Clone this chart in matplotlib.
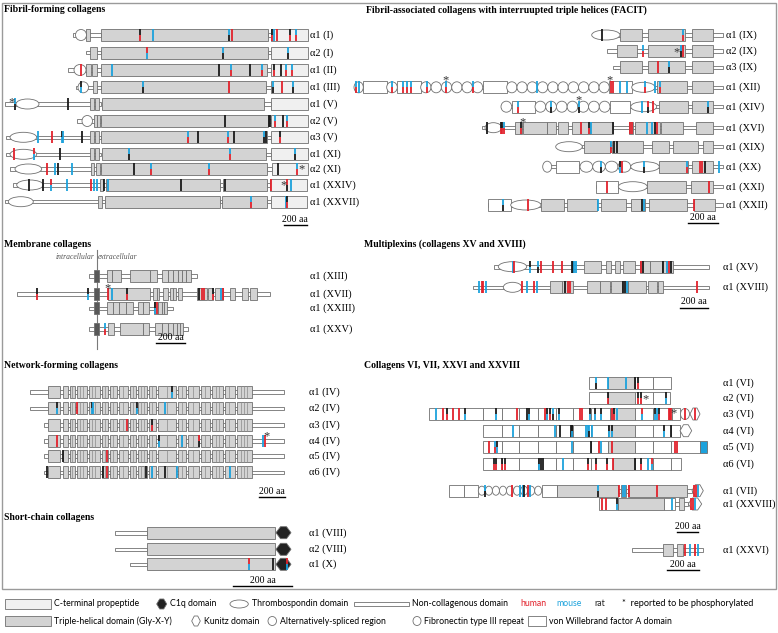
import matplotlib.pyplot as plt
from matplotlib.patches import Rectangle, Ellipse, Polygon

# ---------------------------------------------------------------
# Domain maps (x along the chain in figure units, one row per chain)
# domain: (kind, start, end[, repeats]); mark: (x, colours top->bottom)
# kinds: nc = non-collagenous, th = triple helix, cp = C-propeptide,
# vwa = vWF A, sp = small helix, tm = transmembrane, tsp = thrombospondin,
# fn = fibronectin III, hex = Kunitz, c1q = C1q, blu = filled end block
# ---------------------------------------------------------------

# Fibril-forming collagens
fib_labels = ["α1 (I)", "α2 (I)", "α1 (II)", "α1 (III)", "α1 (V)", "α2 (V)",
              "α3 (V)", "α1 (XI)", "α2 (XI)", "α1 (XXIV)", "α1 (XXVII)"]
fib_rows = [35, 52.7, 70, 87.3, 104, 121, 137.3, 154.3, 169, 185, 201.7]
fib_domains = [
    [("nc", 73, 101), ("fn", 75.5, 86.5), ("sp", 86, 90), ("th", 101, 268), ("nc", 268, 271), ("cp", 271, 308)],
    [("nc", 86, 101), ("sp", 90, 97), ("th", 101, 268), ("nc", 268, 271), ("cp", 271, 308)],
    [("nc", 68, 101), ("fn", 74, 86), ("sp", 86, 91.5), ("sp", 92.5, 97), ("th", 101, 266.7), ("nc", 266.7, 271), ("cp", 271, 308)],
    [("nc", 76, 101), ("fn", 78, 88.5), ("sp", 93, 97), ("th", 101, 265.7), ("nc", 265.7, 271), ("cp", 271, 308)],
    [("nc", 5, 101), ("tsp", 16, 39), ("sp", 90.5, 94.3), ("sp", 95, 99), ("th", 101.7, 264.3), ("nc", 264.3, 271), ("cp", 271, 308)],
    [("nc", 76.7, 101), ("fn", 82, 92.5), ("sp", 94, 97), ("sp", 97.5, 100.5), ("th", 101, 268), ("nc", 268, 271), ("cp", 271, 308)],
    [("nc", 6, 101), ("tsp", 10, 36.7), ("sp", 90, 94), ("sp", 95, 99), ("th", 100.7, 266.7), ("nc", 266.7, 271), ("cp", 271, 308)],
    [("nc", 6, 101), ("tsp", 10, 36.7), ("sp", 90, 94), ("sp", 95, 99), ("th", 101.7, 265.7), ("nc", 265.7, 271), ("cp", 271, 308)],
    [("nc", 10, 101), ("tsp", 15, 41.7), ("sp", 90.7, 94), ("sp", 95.7, 100), ("th", 100.7, 266.7), ("nc", 266.7, 271.7), ("cp", 271.7, 308)],
    [("nc", 12.7, 106), ("tsp", 16.7, 43.3), ("sp", 100, 103.3), ("th", 106, 220), ("nc", 220, 222.7), ("th", 222.7, 266.7), ("nc", 266.7, 270), ("cp", 270, 306.7)],
    [("nc", 5, 105), ("tsp", 8.3, 33.3), ("sp", 98.3, 101.7), ("th", 105, 220), ("nc", 220, 221.7), ("th", 221.7, 266.7), ("nc", 266.7, 271), ("cp", 271, 306.7)],
]
fib_marks = [
    [(140, "kr"), (152.7, "b"), (229.3, "bk"), (231.7, "r"), (271.7, "kr"), (274.3, "b"), (276.7, "r"), (290, "kr"), (296, "br")],
    [(146.7, "rb"), (223.3, "bk"), (288.3, "bk")],
    [(81.5, "r"), (111.7, "b"), (219.3, "k"), (230.7, "br"), (250, "k"), (261.7, "br"), (274, "kr"), (281, "k"), (285.7, "br"), (292.3, "br")],
    [(81, "kb"), (142.7, "bk"), (229.3, "r"), (273.3, "bk"), (281.7, "r"), (292.7, "bk")],
    [(15, "bk"), (67.7, "k")],
    [(225, "k"), (269, "k"), (270, "k"), (275, "br"), (282.7, "k"), (287.3, "br")],
    [(38.3, "b"), (52.3, "r"), (62, "kb"), (63, "b"), (81.7, "k"), (188.3, "br"), (198.3, "k"), (228.3, "br"),
     (234.3, "k"), (264.5, "bk"), (266, "k"), (280, "kr")],
    [(14, "r"), (34, "rb"), (60, "k"), (129, "bk"), (230, "br"), (295, "bk")],
    [(47.3, "r"), (55, "b"), (58.3, "k"), (72.3, "b"), (134, "k"), (150.7, "br"), (209.3, "br"), (277.7, "k"), (297.3, "br")],
    [(29.3, "k"), (43.3, "k"), (51, "rb"), (67.3, "b"), (90.7, "r"), (94.3, "b"), (96.7, "b"), (104, "k"), (108.3, "b"),
     (181, "k"), (225, "k"), (270.7, "r"), (287.3, "rk"), (291, "b")],
    [(251, "br"), (285.7, "b"), (287.3, "kr")],
]
fib_stars = [(4, 11.7, -5), (8, 301.7, -3), (9, 283.3, -3)]

# Membrane collagens
mem_labels = ["α1 (XIII)", "α1 (XVII)", "α1 (XXIII)", "α1 (XXV)"]
mem_rows = [275.7, 294, 308.3, 329]
mem_domains = [
    [("nc", 89.3, 196.7), ("tm", 94.3, 99), ("th", 107.3, 112.3), ("th", 112.3, 120.7), ("th", 130, 150), ("th", 150, 156.7),
     ("th", 162.3, 167.7), ("th", 167.7, 173.3), ("th", 173.3, 177.7), ("th", 177.7, 181.7), ("th", 181.7, 185.7), ("th", 185.7, 190.7)],
    [("nc", 17.3, 270), ("tm", 94.3, 99), ("th", 108.3, 150), ("th", 153, 156.7), ("th", 156.7, 159.3), ("th", 163.3, 168.3),
     ("th", 170, 173.3), ("th", 173.3, 176), ("th", 178.3, 181.7), ("th", 196.7, 206.7), ("th", 208.3, 213.3), ("th", 215, 223.3),
     ("th", 230, 235), ("th", 241.7, 248.3), ("th", 250, 256.7)],
    [("nc", 89.3, 172.7), ("tm", 94.3, 99), ("th", 107.3, 113.3), ("th", 113.3, 118.7), ("th", 118.7, 126), ("th", 126, 132.7),
     ("th", 137.7, 143.3), ("th", 143.3, 149), ("th", 154, 158.3), ("th", 158.3, 161.7), ("th", 161.7, 164.3), ("th", 164.3, 166.7)],
    [("nc", 89.3, 188.3), ("tm", 94.3, 99), ("th", 107.7, 114.3), ("th", 120, 143.3), ("th", 143.3, 149.3), ("th", 155, 162.3),
     ("th", 162.3, 168.3), ("th", 168.3, 173.3), ("th", 173.3, 176.7), ("th", 176.7, 180), ("th", 180, 182.7)],
]
mem_marks = [
    [],
    [(36.7, "kr"), (88.3, "kb"), (108.3, "r"), (111.7, "b"), (126.7, "kr"), (199.3, "k"), (201.7, "r"), (204.3, "r"),
     (213.3, "kr"), (221, "b"), (222.7, "r")],
    [(155, "kb"), (156.7, "r")],
    [(105, "br")],
]
mem_stars = [(1, 107.3, -9)]
membrane_x = 96.7

# Network-forming collagens (type IV share one block pattern)
net_labels = ["α1 (IV)", "α2 (IV)", "α3 (IV)", "α4 (IV)", "α5 (IV)", "α6 (IV)"]
net_rows = [391.7, 408.3, 425, 440.7, 455.7, 472.3]
net_start = [30, 30, 44.3, 44.3, 44.3, 44.3]
net_end = 284
iv_blocks = [(48.3, 60.3), (62.7, 68.3), (69.7, 74.7), (76.7, 86.7), (88.7, 100), (102, 108.3), (110.3, 117),
             (119, 127.7), (130, 136), (137.7, 146.7), (148.7, 156), (158, 175.7), (177.7, 186.3), (188.3, 199.3),
             (201.3, 210), (212, 222.7), (224.7, 235), (236.7, 251.7)]
iv_dividers = [72, 80.5, 83.5, 92, 95, 105, 113.5, 123, 133, 141, 144, 152, 167, 182, 193.5, 205, 216, 219,
               229.5, 241, 244.5, 247.5]
net_marks = [
    [(171.7, "kb")],
    [(56.7, "kb"), (76.7, "r"), (91.7, "kb"), (93.3, "b"), (136.7, "kb"), (165, "b")],
    [(126.7, "r"), (151.7, "kr")],
    [(56.7, "r"), (159.3, "kb"), (182.3, "b"), (199.3, "rk"), (263.3, "b"), (265, "r")],
    [(63.3, "k"), (107.3, "r")],
    [(46.7, "k"), (102.7, "k"), (106.7, "r"), (146, "k"), (151.7, "b"), (165, "k"), (176.7, "b"), (230, "b")],
]
net_stars = [(3, 267, -8)]

# Short-chain collagens
short_labels = ["α1 (VIII)", "α2 (VIII)", "α1 (X)"]
short_rows = [532.7, 549.3, 564.3]
short_domains = [
    [("nc", 115, 147.3), ("th", 147.3, 275), ("c1q", 276, 291)],
    [("nc", 115, 147.3), ("th", 147.3, 275), ("c1q", 276, 291)],
    [("nc", 130, 147.3), ("th", 147.3, 275), ("c1q", 276, 291)],
]
short_marks = [[], [], [(249, "rb"), (272.7, "k"), (287.3, "rb")]]

# FACIT collagens
fac_labels = ["α1 (IX)", "α2 (IX)", "α3 (IX)", "α1 (XII)", "α1 (XIV)", "α1 (XVI)", "α1 (XIX)",
              "α1 (XX)", "α1 (XXI)", "α1 (XXII)"]
fac_rows = [35, 51, 67.3, 87.3, 106.7, 127.7, 146.7, 166.7, 186.7, 205]
fac_domains = [
    [("nc", 606, 723.3), ("tsp", 591.7, 620), ("th", 620, 641.7), ("th", 647.7, 685), ("th", 691.7, 713.3)],
    [("nc", 606.7, 723.3), ("th", 616.7, 636.7), ("th", 648.3, 685), ("th", 691.7, 713.3)],
    [("nc", 613.3, 723.3), ("th", 620, 641.7), ("th", 648.3, 685), ("th", 691.7, 713.3)],
    [("nc", 354, 723.3), ("fn", 354, 363.3), ("vwa", 363.3, 386.7), ("fn", 386.7, 397.3), ("vwa", 397.3, 420.7),
     ("fn", 420.7, 482.7, 6), ("vwa", 482.7, 506.7), ("fn", 506.7, 609.3, 10), ("vwa", 609.3, 631.7),
     ("tsp", 631.7, 655), ("th", 656.7, 686.7), ("th", 691.7, 713.3)],
    [("nc", 501, 723.3), ("fn", 501, 511.7), ("vwa", 511.7, 535), ("fn", 535, 610, 7), ("vwa", 610, 630),
     ("tsp", 630.7, 656.7), ("th", 659.3, 688.3), ("th", 692.3, 713.3)],
    [("nc", 481.7, 723.3), ("tsp", 485, 501.7), ("th", 515, 521.7), ("th", 523.3, 546.7), ("th", 547.3, 555.7),
     ("th", 558.3, 568.3), ("th", 571.7, 590), ("th", 590, 613.3), ("th", 629.3, 633.3), ("th", 635, 660),
     ("th", 660.7, 683.3), ("th", 696, 713.3)],
    [("nc", 582.3, 723.3), ("tsp", 555.7, 582.3), ("th", 584, 610), ("th", 611.7, 643.3), ("th", 651.7, 669.3),
     ("th", 673.3, 698.3), ("th", 703.3, 713.3)],
    [("nc", 542.7, 723.3), ("fn", 542.7, 551.7), ("vwa", 556, 579.3), ("fn", 580, 630.7, 4), ("tsp", 630.7, 659.3),
     ("th", 659.3, 688.3), ("th", 692.3, 713.3)],
    [("nc", 595.7, 723.3), ("vwa", 595.7, 618.3), ("tsp", 618.3, 647.3), ("th", 647.3, 685.7), ("th", 691, 713.3)],
    [("nc", 488.3, 723.3), ("vwa", 488.3, 510.7), ("tsp", 510.7, 541), ("th", 541, 564), ("th", 566.7, 597.3),
     ("th", 601, 625.7), ("th", 630.7, 645), ("th", 649.3, 687.3), ("th", 694, 715)],
]
fac_marks = [
    [(602.3, "k"), (683.3, "br")],
    [(642.7, "br"), (681, "bk"), (682.7, "r")],
    [(658.3, "r"), (669.3, "bk")],
    [(356, "br"), (359.3, "b"), (391.7, "br"), (402.7, "br"), (406.7, "br"), (411, "br"), (426.7, "br"), (446, "br"),
     (472.7, "br"), (536.7, "b"), (610.7, "r"), (612.7, "r"), (620, "b"), (627.3, "b"), (645, "br"), (655, "b"), (660, "br")],
    [(517.7, "br"), (551, "bk"), (579, "bk"), (641.7, "b"), (648.3, "rk"), (653.3, "r"), (708.3, "bk")],
    [(486.7, "k"), (500.7, "kr"), (502.3, "kr"), (504, "br"), (521, "kr"), (580.7, "r"), (589.3, "kr"), (591, "b"),
     (612.7, "k"), (630, "r"), (632.3, "r"), (646.7, "b"), (651.7, "b"), (655, "k"), (656.7, "r")],
    [(611, "br"), (614, "k"), (616.7, "k")],
    [(600.7, "bk"), (620, "kb"), (622.3, "r"), (644, "bk"), (686.7, "br"), (700, "r"), (701.7, "r"), (705, "k"), (719.3, "b")],
    [(607.3, "r"), (709, "r")],
    [(503.3, "bk"), (527.7, "r"), (598.3, "b"), (642.3, "k"), (644, "b"), (694.3, "r")],
]
fac_stars = [(1, 676.7, -2), (3, 446, -10), (3, 610, -10), (4, 579, -10), (5, 522.3, -9)]

# Multiplexins
mul_labels = ["α1 (XV)", "α1 (XVIII)"]
mul_rows = [266.7, 287.3]
mul_domains = [
    [("nc", 494, 709.3), ("tsp", 498.3, 526.7), ("th", 584, 600.7), ("th", 606, 610.7), ("th", 615, 620),
     ("th", 622.7, 635), ("th", 640, 650), ("th", 650, 662), ("th", 662, 673.3)],
    [("nc", 473.3, 709.3), ("tsp", 503.3, 521.7), ("th", 550, 561.7), ("th", 561.7, 573.3), ("th", 586.7, 600),
     ("th", 600, 610), ("th", 610.7, 621.7), ("th", 621.7, 628.3), ("th", 628.3, 646), ("th", 648.3, 656.7),
     ("th", 658.3, 662.7)],
]
mul_marks = [
    [(512.7, "b"), (514.3, "r"), (530, "kb"), (537.7, "bk"), (541, "r"), (552.7, "r"), (562.3, "r"), (571.7, "k"),
     (572.7, "k"), (574, "b"), (575.7, "b"), (640.7, "r"), (643.3, "k"), (663.3, "k"), (666.7, "b"), (669.3, "r"), (671, "k")],
    [(479.3, "b"), (481.7, "r"), (483.3, "r"), (485.7, "b"), (522.3, "r"), (527.3, "b"), (534.3, "r"), (536.7, "b"),
     (565, "k"), (568.3, "r"), (570, "r"), (623.3, "k"), (625, "k"), (627.3, "b"), (697.3, "r")],
]

# Collagens VI, VII, XXVI and XXVIII
c6_labels = ["α1 (VI)", "α2 (VI)", "α3 (VI)", "α4 (VI)", "α5 (VI)", "α6 (VI)",
             "α1 (VII)", "α1 (XXVIII)", "α1 (XXVI)"]
c6_rows = [382.7, 398.3, 414, 430.7, 446.7, 464.3, 490.7, 504, 550]
vwa_run = [("vwa", 483.3, 501.7), ("vwa", 501.7, 519.3), ("vwa", 519.3, 537.7), ("vwa", 537.7, 555.7),
           ("vwa", 555.7, 573.3), ("vwa", 573.3, 591)]
c6_domains = [
    [("vwa", 589.3, 608.3), ("th", 608.3, 635), ("vwa", 635, 653.3), ("vwa", 653.3, 670.7)],
    [("vwa", 589.3, 608.3), ("th", 608.3, 635), ("vwa", 635, 653.3), ("vwa", 653.3, 670)],
    [("vwa", 429.3, 482.7)] + vwa_run + [("vwa", 591, 610), ("th", 610, 635), ("vwa", 635, 652.7),
                                         ("vwa", 652.7, 671.7), ("vwa", 671.7, 680), ("fn", 680.5, 689.5), ("hex", 690, 700)],
    vwa_run + [("vwa", 591, 608.3), ("th", 608.3, 635), ("vwa", 635, 653.3), ("vwa", 653.3, 671), ("vwa", 671, 680),
               ("hex", 680, 691.7)],
    vwa_run + [("vwa", 591, 608.3), ("th", 608.3, 635), ("vwa", 635, 653.3), ("vwa", 653.3, 671), ("vwa", 671, 700),
               ("blu", 700, 706.7)],
    vwa_run + [("vwa", 591, 612.7), ("th", 612.7, 635), ("vwa", 635, 653.3), ("vwa", 653.3, 671), ("vwa", 671, 680.7)],
    [("vwa", 449.3, 464), ("vwa", 464, 478.3), ("fn", 478.3, 541.7, 9), ("vwa", 541.7, 556.7), ("th", 556.7, 618.3),
     ("nc", 618.3, 620.7), ("th", 620.7, 626), ("nc", 626, 628.3), ("th", 628.3, 686.7), ("nc", 686.7, 692),
     ("hex", 692, 703.3)],
    [("nc", 675, 688.3), ("vwa", 599.3, 617.7), ("th", 617.7, 664.3), ("vwa", 664.3, 675), ("sp", 679, 684),
     ("hex", 688.3, 701.7)],
    [("nc", 631.7, 702.7), ("th", 662.7, 672.7), ("th", 677.3, 682.7)],
]
c6_marks = [
    [(595.7, "bk"), (607.7, "b"), (626, "b"), (635, "k"), (638.3, "kr")],
    [(607.7, "kr"), (638.3, "kr"), (640.7, "kr"), (666, "kb")],
    [(436, "b"), (442.7, "r"), (447.3, "kr"), (453.3, "r"), (459.3, "r"), (465, "kb"), (496, "kb"), (517.3, "r"),
     (526.7, "k"), (529.3, "kb"), (545, "r"), (547.3, "kb"), (550, "kr"), (552.7, "bk"), (559, "kb"), (580, "r"),
     (581.7, "r"), (590, "kb"), (595, "kb"), (600.7, "kb"), (611.7, "r"), (614, "kr"), (616.7, "b"), (641.7, "rb"),
     (655, "kb"), (656.7, "b"), (659.3, "kr"), (669, "r"), (670, "r"), (671, "r"), (685, "r"), (695, "r")],
    [(513.3, "b"), (555, "b"), (560, "k"), (570.7, "k"), (571.7, "k"), (572.3, "kb"), (586, "b"), (587.7, "b"),
     (589.3, "bk"), (592.3, "b"), (609.3, "kb"), (611.7, "kb"), (664.3, "kb"), (671, "k")],
    [(489.3, "r"), (495, "br"), (497.3, "kb"), (571.7, "b"), (591, "k"), (599, "r"), (600.7, "b"), (611.7, "r"),
     (675, "r"), (677.3, "r")],
    [(494, "kr"), (496, "kr"), (502.3, "kr"), (505, "kr"), (539, "kb"), (540.7, "k"), (543.3, "k"), (563.3, "b"),
     (588.3, "kr"), (596, "kr"), (606.7, "kr"), (612.7, "r"), (635, "k"), (640.7, "kr"), (648.3, "b"), (651.7, "rb")],
    [(485, "bk"), (511.7, "r"), (520, "b"), (523.3, "b"), (524.3, "k"), (527.7, "r"), (530, "b"), (597.7, "bk"),
     (619.3, "r"), (622.7, "b"), (625, "b"), (629.3, "r"), (656.7, "r"), (694, "r"), (696, "r"), (698.3, "b")],
    [(602.3, "r"), (606, "r"), (616.7, "kb"), (671.7, "b"), (691, "r"), (692.7, "r"), (695, "b")],
    [(685, "r"), (690, "b"), (695, "r"), (697.7, "b")],
]
c6_stars = [(1, 646, -2), (2, 674, -4)]

# section titles, scale bars ("200 aa")
titles = ["Fibril-forming collagens", "Fibril-associated collagens with interruupted triple helices (FACIT)",
          "Membrane collagens", "Multiplexins (collagens XV and XVIII)", "Network-forming collagens",
          "Collagens VI, VII, XXVI and XXVIII", "Short-chain collagens"]
title_pos = [(4, 10), (366, 10), (4, 244.3), (364, 244.3), (4, 365), (364, 365), (4, 517.7)]
scale_bars = [(284, 306.7, 224.5), (156, 185, 342.7), (259.3, 285, 496.7), (233.3, 292.3, 585.7),
              (688.3, 718.3, 223.3), (680, 708.3, 307.5), (677.3, 698.3, 531.7), (667.3, 699.3, 570)]

# legend
leg_row1 = [("cp", 5, 50.7, "C-terminal propeptide"), ("c1q", 156.7, 166.7, "C1q domain"),
            ("tsp", 230, 248.3, "Thrombospondin domain"), ("nc", 354, 409, "Non-collagenous domain")]
leg_row2 = [("th", 5, 50.7, "Triple-helical domain (Gly-X-Y)"), ("hex", 191.7, 200.3, "Kunitz domain"),
            ("fn", 268, 276.5, "Alternatively-spliced region"), ("fn", 413, 421, "Fibronectin type III repeat"),
            ("vwa", 528, 546, "von Willebrand factor A domain")]
species = [("human", 520), ("mouse", 556), ("rat", 594)]

# ---------------------------------------------------------------
RED, BLUE, BLACK = "#e2222c", "#1ca2dc", "#1a1a1a"
COLS = {"r": RED, "b": BLUE, "k": BLACK}
FILL = {"th": "#d3d3d3", "cp": "#f0f0f0", "vwa": "white", "sp": "#d3d3d3", "tm": "#585858", "blu": BLUE}
EDGE = "#707070"
H = 12
SERIF = "Liberation Serif"
SANS = "Lato"
LEG_FS = 6.3


def draw_domain(ax, y, kind, x0, x1, n=1, h=H):
    w = x1 - x0
    if kind == "nc":
        ax.add_patch(Rectangle((x0, y - 1.8), w, 3.6, fc="white", ec=EDGE, lw=0.6, zorder=1))
    elif kind in FILL:
        ax.add_patch(Rectangle((x0, y - h / 2), w, h, fc=FILL[kind], ec=EDGE, lw=0.6, zorder=2))
    elif kind == "tsp":
        ax.add_patch(Ellipse(((x0 + x1) / 2, y), w, h - 2, fc="white", ec=EDGE, lw=0.6, zorder=2))
    elif kind == "fn":
        step = w / n
        for i in range(n):
            ax.add_patch(Ellipse((x0 + step * (i + 0.5), y), step, min(h - 1, step + 2),
                                 fc="white", ec=EDGE, lw=0.6, zorder=2))
    elif kind in ("hex", "c1q"):
        c = 0.3 * w
        pts = [(x0, y), (x0 + c, y - h / 2), (x1 - c, y - h / 2), (x1, y), (x1 - c, y + h / 2), (x0 + c, y + h / 2)]
        ax.add_patch(Polygon(pts, closed=True, fc="#222222" if kind == "c1q" else "white",
                             ec=EDGE, lw=0.6, zorder=2))


def draw_mark(ax, y, x, cols):
    seg = H / len(cols)
    for i, c in enumerate(cols):
        ax.plot([x, x], [y - H / 2 + i * seg, y - H / 2 + (i + 1) * seg], color=COLS[c],
                lw=1.3, solid_capstyle="butt", zorder=3)


def draw_section(ax, rows, labels, domains, marks, label_x, stars=()):
    for y, lab, doms, mk in zip(rows, labels, domains, marks):
        for d in doms:
            draw_domain(ax, y, *d)
        for x, c in mk:
            draw_mark(ax, y, x, c)
        ax.text(label_x, y, lab, fontsize=7.5, family=SERIF, va="center", ha="left")
    for i, x, dy in stars:
        ax.text(x, rows[i] + dy + 3.5, "*", fontsize=9, family=SERIF, va="center", ha="center",
                color="#333333", zorder=4)


fig = plt.figure(figsize=(7.78, 6.33), dpi=100)
ax = fig.add_axes([0, 0, 1, 1])
ax.set_xlim(0, 778)
ax.set_ylim(633, 0)
ax.axis("off")

# outer frame
ax.add_patch(Rectangle((2.5, 2.5), 773.5, 586.5, fc="none", ec="#9a9a9a", lw=1.0))

for t, (x, y) in zip(titles, title_pos):
    ax.text(x, y, t, fontsize=7, family=SERIF, weight="bold", va="center", ha="left")

draw_section(ax, fib_rows, fib_labels, fib_domains, fib_marks, 310, fib_stars)
draw_section(ax, mem_rows, mem_labels, mem_domains, mem_marks, 310, mem_stars)
draw_section(ax, fac_rows, fac_labels, fac_domains, fac_marks, 726, fac_stars)
draw_section(ax, mul_rows, mul_labels, mul_domains, mul_marks, 723.3)
draw_section(ax, c6_rows, c6_labels, c6_domains, c6_marks, 723.3, c6_stars)
draw_section(ax, short_rows, short_labels, short_domains, short_marks, 309)

# type IV chains: shared block layout
net_domains = []
for s in net_start:
    doms = [("nc", s, iv_blocks[0][0]), ("nc", iv_blocks[0][0], net_end)]
    doms += [("th", a, b) for a, b in iv_blocks]
    net_domains.append(doms)
draw_section(ax, net_rows, net_labels, net_domains, net_marks, 309, net_stars)
for y in net_rows:
    for x in iv_dividers:
        ax.plot([x, x], [y - H / 2, y + H / 2], color="#8a8a8a", lw=0.5, zorder=2.5)

# membrane boundary
ax.plot([membrane_x, membrane_x], [250, 349], color="#7a7a7a", lw=0.8, zorder=0.5)
ax.text(membrane_x - 2, 257.3, "intracellular", fontsize=5.5, family=SERIF, style="italic",
        color="#555555", ha="right", va="center")
ax.text(membrane_x + 1.5, 257.3, "extracellular", fontsize=5.5, family=SERIF, style="italic",
        color="#555555", ha="left", va="center")

for x0, x1, y in scale_bars:
    ax.plot([x0, x1], [y, y], color="black", lw=1.0)
    ax.text((x0 + x1) / 2, y - 5.5, "200 aa", fontsize=7, family=SERIF, ha="center", va="center")

# legend
for row_y, items in ((604, leg_row1), (621, leg_row2)):
    for kind, x0, x1, txt in items:
        draw_domain(ax, row_y, kind, x0, x1, h=10)
        ax.text(x1 + 3.5, row_y, txt, fontsize=LEG_FS, family=SANS, va="center", ha="left")
for (name, x), col in zip(species, (RED, BLUE, "#222222")):
    ax.text(x, 604, name, fontsize=LEG_FS, family=SANS, va="center", ha="left", color=col)
ax.text(622, 604, "*  reported to be phosphorylated", fontsize=6.6, family=SANS,
        va="center", ha="left")

fig.savefig("out.png", dpi=100)
